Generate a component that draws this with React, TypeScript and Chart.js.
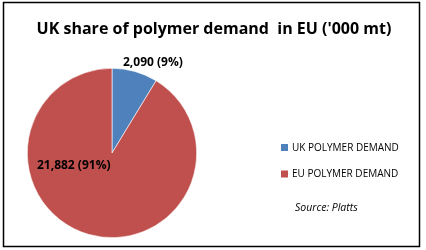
import React, { useEffect, useRef } from "react";
import { Chart, registerables } from "chart.js";

Chart.register(...registerables);

const categories = ["UK POLYMER DEMAND", "EU POLYMER DEMAND"];
const values = [2090, 21882];
const percents = ["9%", "91%"];
const colors = ["#4F81BD", "#C0504D"];
const titleText = "UK share of polymer demand  in EU ('000 mt)";
const sourceText = "Source: Platts";

const FONT = "'Open Sans', 'Liberation Sans', sans-serif";

function fmt(n: number) {
  return n.toLocaleString("en-US");
}

const decorPlugin = {
  id: "decor",
  beforeDraw(chart: any) {
    const ctx = chart.ctx;
    ctx.save();
    ctx.fillStyle = "#ffffff";
    ctx.fillRect(0, 0, chart.width, chart.height);
    ctx.restore();
  },
  afterDraw(chart: any) {
    const ctx = chart.ctx;
    ctx.save();
    // border
    ctx.strokeStyle = "#000000";
    ctx.lineWidth = 1.5;
    ctx.strokeRect(3.5, 2.5, 416, 244);
    // title
    ctx.fillStyle = "#000000";
    ctx.textAlign = "center";
    ctx.textBaseline = "middle";
    ctx.font = `bold 16px ${FONT}`;
    ctx.fillText(titleText, 214, 29);
    // data labels
    ctx.font = `bold 12px ${FONT}`;
    ctx.textAlign = "left";
    ctx.fillText(`${fmt(values[0])} (${percents[0]})`, 123, 63);
    ctx.fillText(`${fmt(values[1])} (${percents[1]})`, 37, 166);
    // legend
    ctx.font = `10px ${FONT}`;
    const rows = [147.5, 174];
    categories.forEach((c, i) => {
      ctx.fillStyle = colors[i];
      ctx.fillRect(281, rows[i] - 3.5, 7, 7);
      ctx.fillStyle = "#000000";
      ctx.fillText(c, 292, rows[i] + 0.5);
    });
    // source
    ctx.font = `italic 10.5px ${FONT}`;
    ctx.fillText(sourceText, 295, 208);
    ctx.restore();
  },
};

export default function App() {
  const ref = useRef<HTMLCanvasElement | null>(null);
  useEffect(() => {
    document.body.style.margin = "0";
    if (!ref.current) return;
    const chart = new Chart(ref.current, {
      type: "pie",
      data: {
        labels: categories,
        datasets: [
          {
            data: values,
            backgroundColor: colors,
            borderColor: "#ffffff",
            borderWidth: 0.6,
          },
        ],
      },
      options: {
        animation: false,
        responsive: false,
        maintainAspectRatio: false,
        layout: { padding: { left: 27, top: 68, bottom: 12, right: 229 } },
        plugins: {
          legend: { display: false },
          title: { display: false },
          tooltip: { enabled: false },
        },
      },
      plugins: [decorPlugin],
    });
    return () => chart.destroy();
  }, []);
  return (
    <div style={{ width: 426, height: 250 }}>
      <canvas ref={ref} width={426} height={250} style={{ width: 426, height: 250, display: "block" }} />
    </div>
  );
}
